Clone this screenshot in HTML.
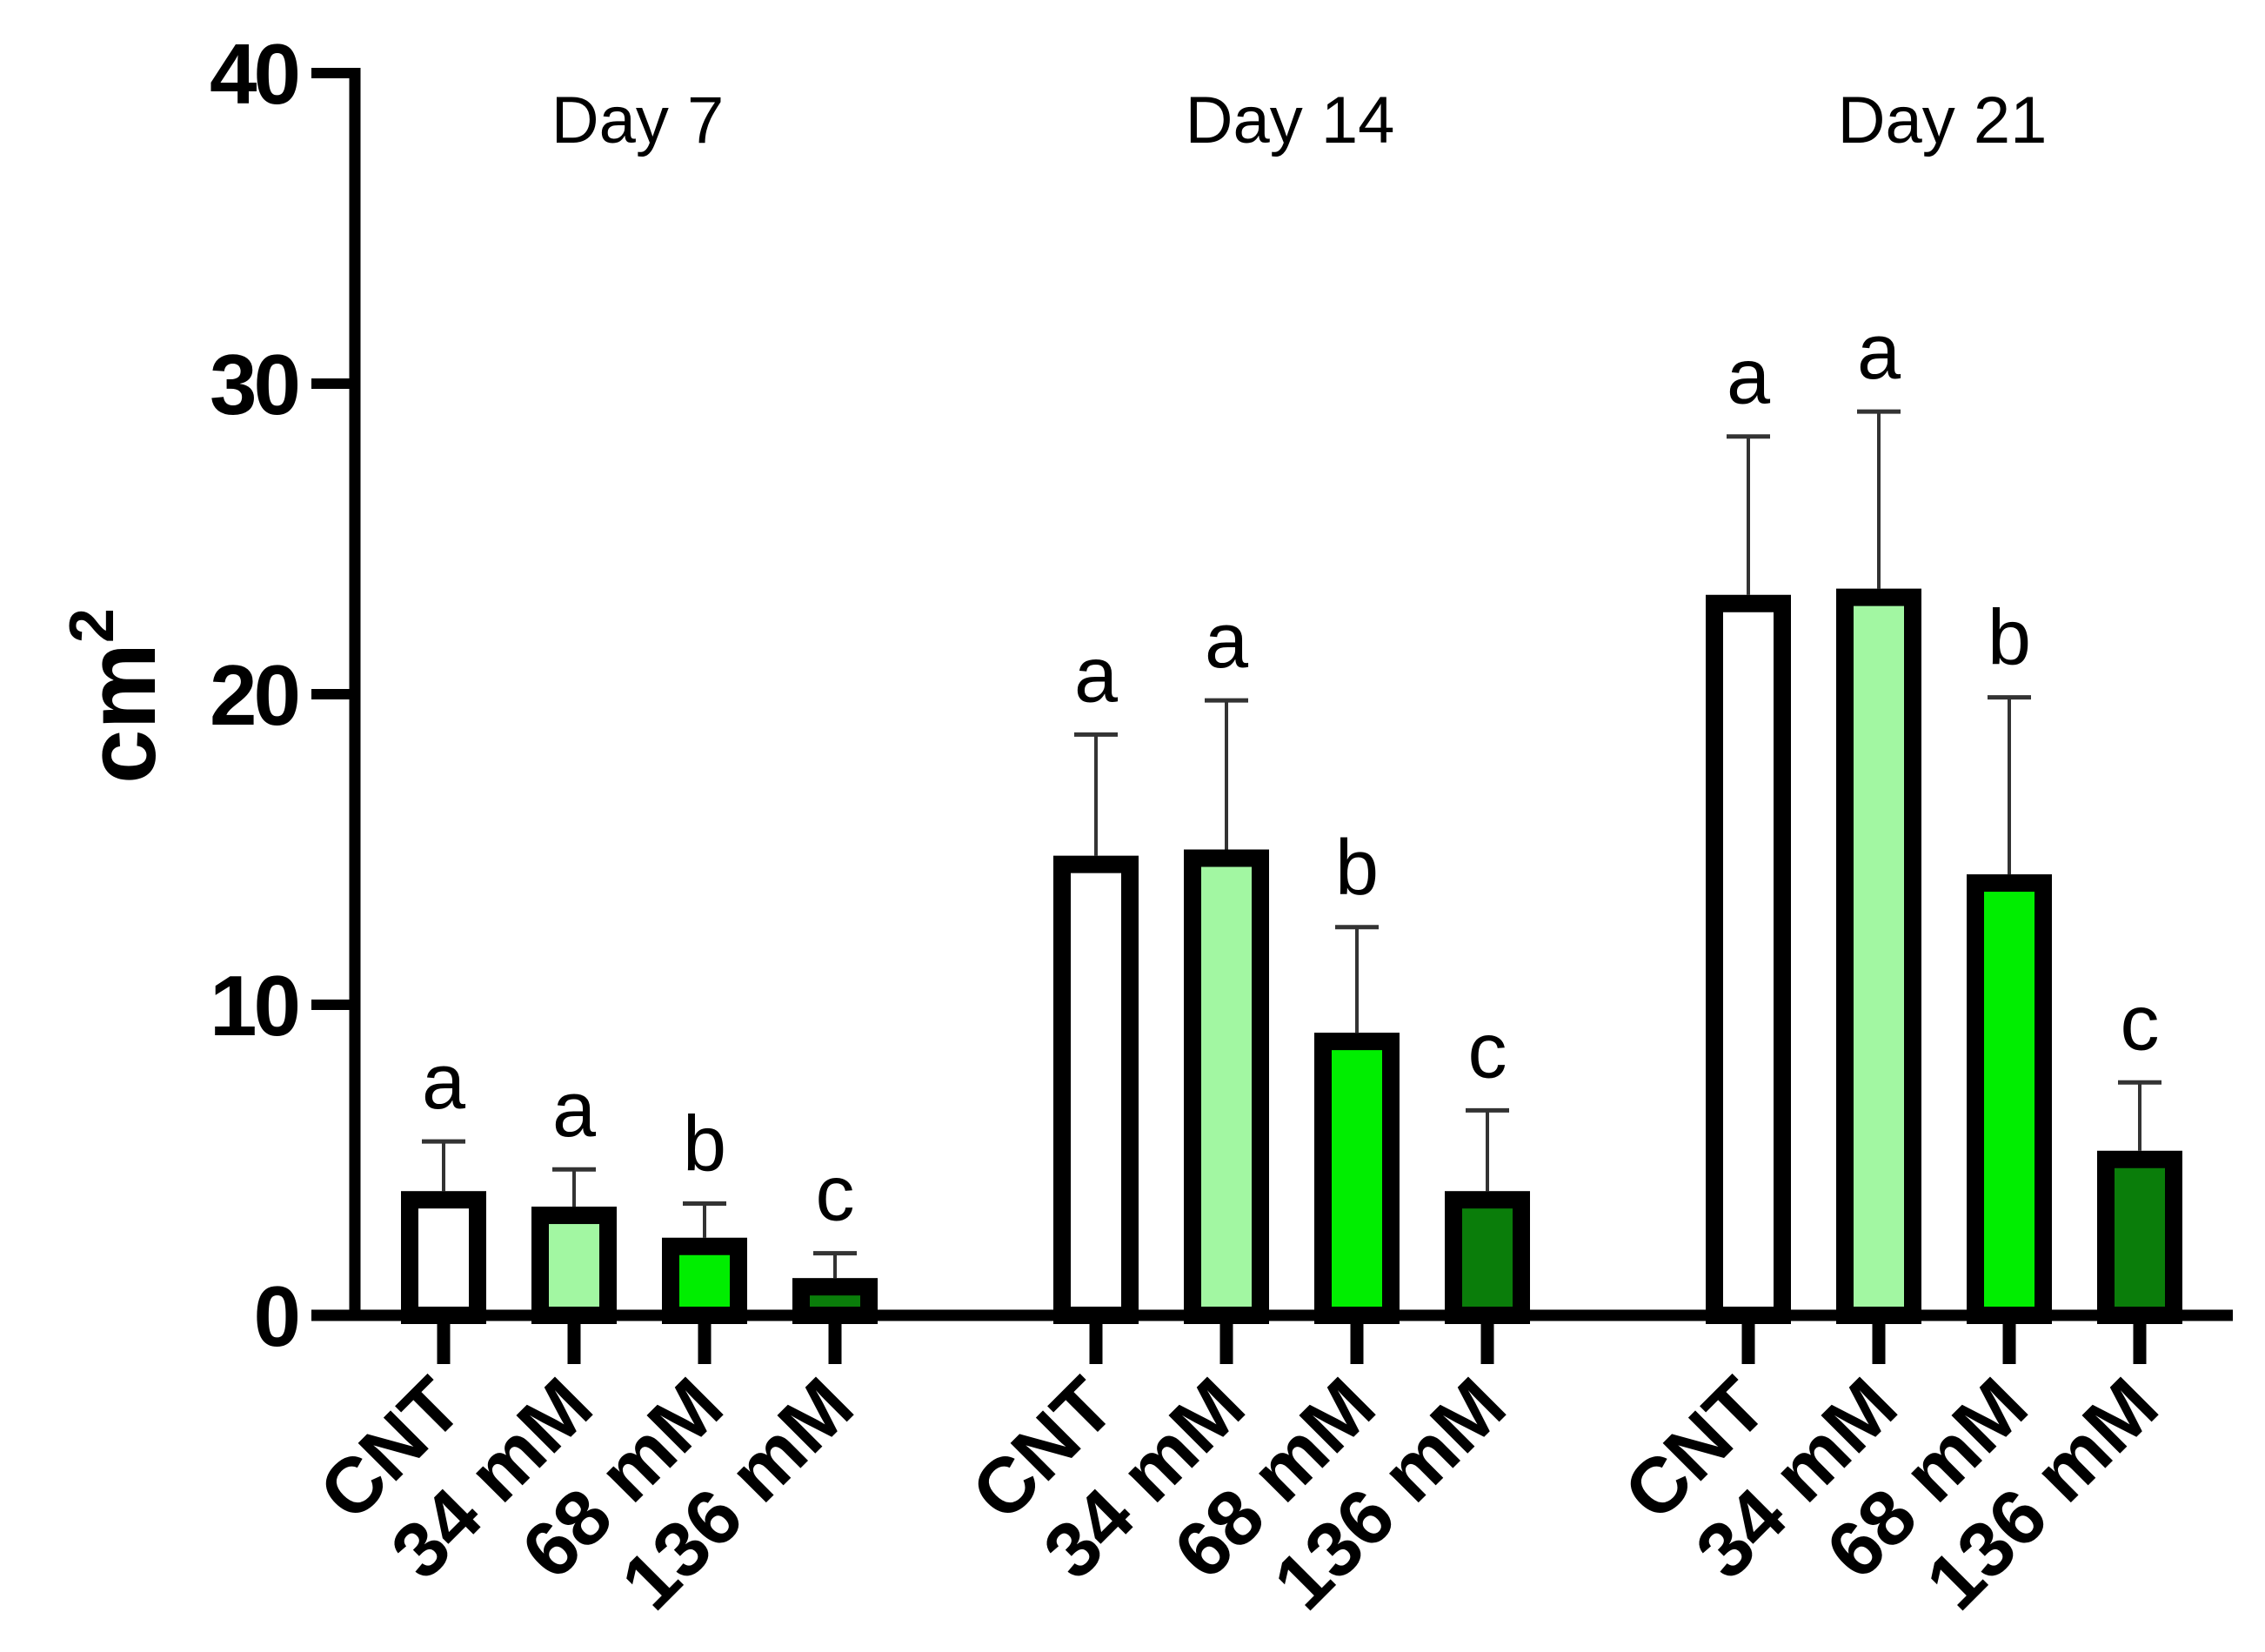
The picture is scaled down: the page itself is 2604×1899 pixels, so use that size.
<!DOCTYPE html>
<html><head><meta charset="utf-8"><style>
html,body{margin:0;padding:0;background:#fff;}
svg{display:block;}
text{font-family:"Liberation Sans",Arial,sans-serif;}
</style></head><body>
<svg id="chart" width="2604" height="1899" viewBox="0 0 2604 1899" xmlns="http://www.w3.org/2000/svg">
<rect width="2604" height="1899" fill="#fff"/>
<g id="g"></g>
</svg>
<script>
const categories = ["CNT","34 mM","68 mM","136 mM"];
const days = ["Day 7","Day 14","Day 21"];
const day7 = [4.0, 3.5, 2.5, 1.2];
const day14 = [14.8, 15.0, 9.1, 4.0];
const day21 = [23.2, 23.4, 14.2, 5.3];
const err7 = [5.6, 4.7, 3.6, 2.0];
const err14 = [18.7, 19.8, 12.5, 6.6];
const err21 = [28.3, 29.1, 19.9, 7.5];
const letters7 = ["a","a","b","c"];
const letters14 = ["a","a","b","c"];
const letters21 = ["a","a","b","c"];
const yTicks = [0, 10, 20, 30, 40];

const fills = ["#ffffff","#a2f7a2","#00ee00","#0a7d0a"];
const NS = "http://www.w3.org/2000/svg";
const g = document.getElementById('g');
const y0 = 1512, yPer = 35.7;
function yS(v){ return y0 - v*yPer; }
function xS(day, cat){ return 510 + day*750 + cat*150; }
function mk(tag, attrs, text){
  const e = document.createElementNS(NS, tag);
  for (const k in attrs) e.setAttribute(k, attrs[k]);
  if (text !== undefined) e.textContent = text;
  g.appendChild(e);
  return e;
}
const values = [day7, day14, day21];
const errs = [err7, err14, err21];
const letters = [letters7, letters14, letters21];

let el = mk('line',{x1:408,y1:yS(40)-6,x2:408,y2:y0,stroke:'#000','stroke-width':13});


yTicks.forEach(t=>{
  let tk = mk('line',{x1:358,y1:yS(t),x2:414,y2:yS(t),stroke:'#000','stroke-width':12});
  
  
  let lb = mk('text',{x:342,y:yS(t)+35,'text-anchor':'end','font-size':98,'font-weight':'bold','letter-spacing':'-4'}, String(t));
  
  
});
let yt = mk('text',{x:0,y:0,'font-size':112,'font-weight':'bold','text-anchor':'middle',transform:'translate(178,800) rotate(-90)'});


yt.innerHTML = 'cm<tspan dy="-48" font-size="72">2</tspan>';

values.forEach((arr, d)=>{
  const dl = mk('text',{x:(xS(d,0)+xS(d,3))/2-2,y:164,'text-anchor':'middle','font-size':76}, days[d]);
  
  
  arr.forEach((v,c)=>{
    const x = xS(d,c), w = 98, bw = 20;
    const et = yS(errs[d][c]);
    const eb = mk('line',{x1:x,y1:et,x2:x,y2:yS(v),stroke:'#333','stroke-width':4});
    
    
    const ec = mk('line',{x1:x-25,y1:et,x2:x+25,y2:et,stroke:'#333','stroke-width':5});
    
    
    const r = mk('rect',{x:x-w/2+bw/2,y:yS(v)+bw/2,width:w-bw,height:Math.max(0,v*yPer-bw/2),fill:fills[c],stroke:'#000','stroke-width':bw});
    
    
    const lt = mk('text',{x:x,y:et-38,'text-anchor':'middle','font-size':90}, letters[d][c]);
    
    
    const tk = mk('line',{x1:x,y1:y0,x2:x,y2:1568,stroke:'#000','stroke-width':15});
    
    
    const xl = mk('text',{x:0,y:0,'text-anchor':'end','font-size':90,'font-weight':'bold',transform:`translate(${x+26},${1622}) rotate(-45)`}, categories[c]);
    
    
  });
});
el = mk('line',{x1:358,y1:y0,x2:2567,y2:y0,stroke:'#000','stroke-width':13});


</script>
</body></html>
